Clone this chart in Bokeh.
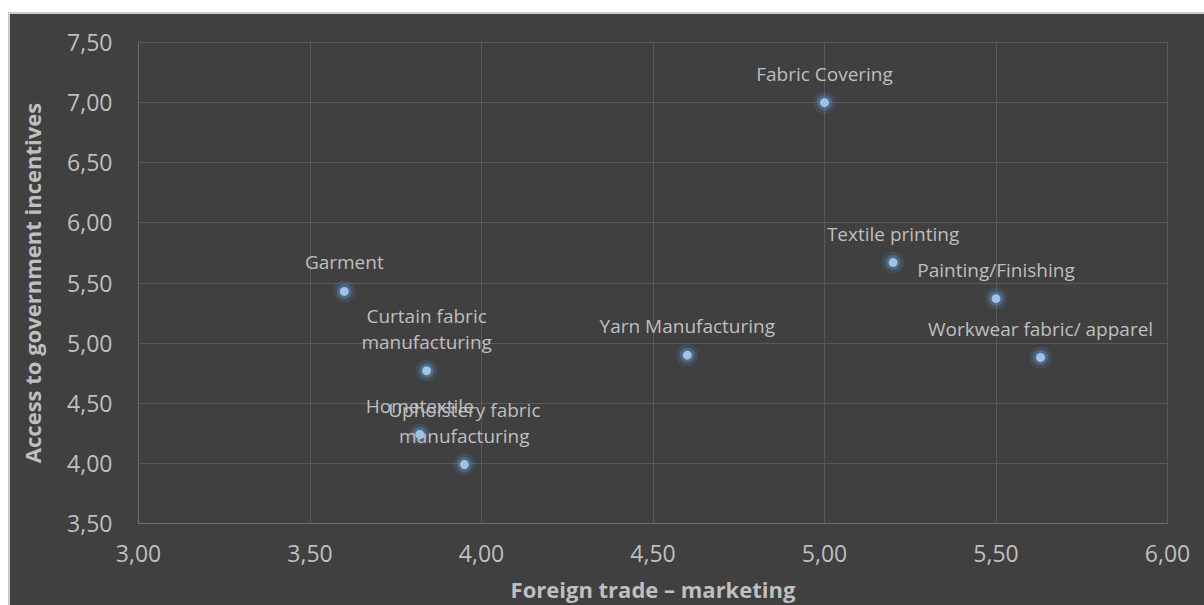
from bokeh.plotting import figure
from bokeh.models import ColumnDataSource, FixedTicker, CustomJSTickFormatter, Range1d
from bokeh.core.properties import value
from bokeh.embed import file_html
from bokeh.resources import INLINE

# ---- data ----
sectors = ["Fabric Covering", "Textile printing", "Painting/Finishing",
           "Workwear fabric/ apparel", "Yarn Manufacturing", "Garment",
           "Curtain fabric\nmanufacturing", "Hometextile",
           "Upholstery fabric\nmanufacturing"]
foreign_trade = [5.00, 5.20, 5.50, 5.63, 4.60, 3.60, 3.84, 3.82, 3.95]
gov_incentives = [7.00, 5.67, 5.37, 4.88, 4.90, 5.43, 4.77, 4.24, 3.99]
x_ticks = [3.0, 3.5, 4.0, 4.5, 5.0, 5.5, 6.0]
y_ticks = [3.5, 4.0, 4.5, 5.0, 5.5, 6.0, 6.5, 7.0, 7.5]
x_title = "Foreign trade – marketing"
y_title = "Access to government incentives"

BG = "#404040"
TXT = "#bfbfbf"
FONT = "Open Sans"

src = ColumnDataSource(dict(x=foreign_trade, y=gov_incentives, label=sectors))

p = figure(width=1196, height=593, output_backend="svg", toolbar_location=None,
           x_range=Range1d(x_ticks[0], x_ticks[-1]), y_range=Range1d(y_ticks[0], y_ticks[-1]),
           background_fill_color=BG, border_fill_color=BG,
           min_border_left=129, min_border_right=38, min_border_top=29, min_border_bottom=83,
           margin=(12, 0, 0, 8))
p.styles = {"border-top": "1px solid #c8c8c8", "border-left": "1px solid #c8c8c8"}
p.outline_line_color = "#595959"

fmt = CustomJSTickFormatter(code="return tick.toFixed(2).replace('.', ',');")
for ax, ticks in ((p.xaxis[0], x_ticks), (p.yaxis[0], y_ticks)):
    ax.ticker = FixedTicker(ticks=ticks)
    ax.formatter = fmt
    ax.major_tick_line_color = None
    ax.minor_tick_line_color = None
    ax.axis_line_color = "#6e6e6e"
    ax.major_label_text_font = FONT
    ax.major_label_text_font_size = "23px"
    ax.major_label_text_color = TXT
    ax.axis_label_text_font = FONT
    ax.axis_label_text_font_style = "bold"
    ax.axis_label_text_font_size = "22px"
    ax.axis_label_text_color = TXT

p.xaxis.axis_label = x_title
p.yaxis.axis_label = y_title
p.xaxis.major_label_standoff = 15
p.xaxis.axis_label_standoff = 9
p.yaxis.major_label_standoff = 20
p.yaxis.axis_label_standoff = 17

p.grid.grid_line_color = "#595959"
p.grid.grid_line_width = 1

# glow + point
p.scatter("x", "y", source=src, size=22, fill_color="#5b9bd5", fill_alpha=0.15, line_color=None)
p.scatter("x", "y", source=src, size=15, fill_color="#5b9bd5", fill_alpha=0.35, line_color=None)
p.scatter("x", "y", source=src, size=9, fill_color="#9dc3e6", line_color=None)

p.text("x", "y", text="label", source=src, text_align="center", text_baseline="bottom",
       y_offset=-16, text_font=value(FONT), text_font_size="19px", text_color=TXT,
       text_line_height=1.0)

open("out.html", "w").write(file_html(p, INLINE))
